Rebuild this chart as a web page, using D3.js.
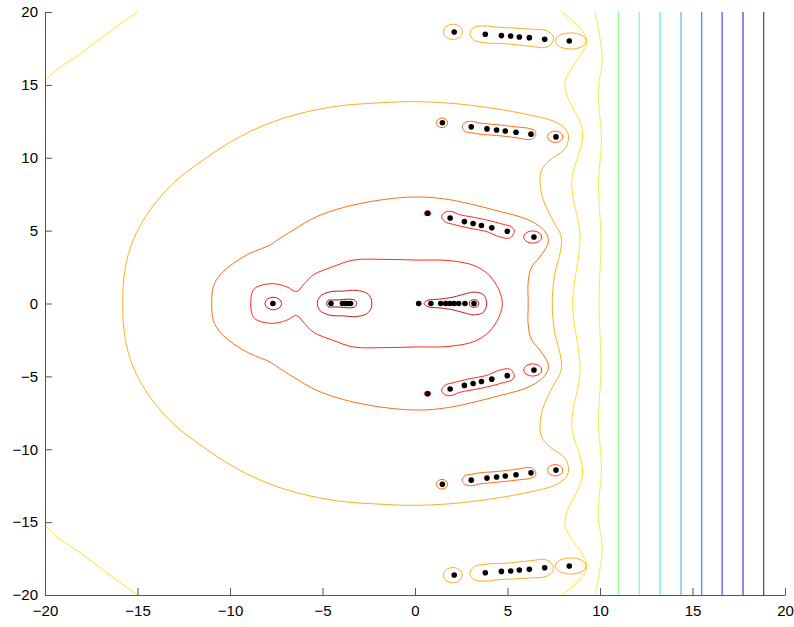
<!DOCTYPE html>
<html>
<head>
<meta charset="utf-8">
<script src="https://cdn.jsdelivr.net/npm/d3@7"></script>
<style>
  body { margin: 0; background: #fff; }
  svg text { font-family: "Liberation Sans", Arial, sans-serif; }
</style>
</head>
<body>
<svg id="chart" width="794" height="627"></svg>
<script>
// contour level colours, lowest |f| first (reversed jet)
var levelColors = ["#800000", "#c80000", "#ff1200", "#ff5b00", "#ffa400", "#ffe000", "#c8ff37",
  "#80ff80", "#37ffc8", "#00edff", "#00a4ff", "#005bff", "#0012ff", "#0000c8", "#000080"];

var xTicks = [-20, -15, -10, -5, 0, 5, 10, 15, 20];
var yTicks = [-20, -15, -10, -5, 0, 5, 10, 15, 20];

// zeros (black dots)
var zerosReal = [-7.68, -4.54, -3.92, -3.77, -3.62, -3.48, 0.2, 0.86, 1.39, 1.66, 1.89, 2.11, 2.36, 2.70, 3.19];
var zerosUpper = [
  [0.68, 6.19], [1.90, 5.87], [2.67, 5.62], [3.14, 5.49], [3.59, 5.35], [4.15, 5.19], [4.99, 4.95], [6.43, 4.56],
  [1.48, 12.40], [3.04, 12.12], [3.89, 11.98], [4.41, 11.90], [4.88, 11.84], [5.46, 11.75], [6.27, 11.62], [7.62, 11.43],
  [2.12, 18.63], [3.80, 18.47], [4.67, 18.38], [5.17, 18.35], [5.64, 18.28], [6.18, 18.24], [7.01, 18.13], [8.34, 18.01]
];
var zerosLower = [
  [0.68, -6.19], [1.90, -5.87], [2.67, -5.62], [3.14, -5.49], [3.59, -5.35], [4.15, -5.19], [4.99, -4.95], [6.43, -4.56],
  [1.48, -12.40], [3.04, -12.12], [3.89, -11.98], [4.41, -11.90], [4.88, -11.84], [5.46, -11.75], [6.27, -11.62], [7.62, -11.43],
  [2.12, -18.63], [3.80, -18.47], [4.67, -18.38], [5.17, -18.35], [5.64, -18.28], [6.18, -18.24], [7.01, -18.13], [8.34, -18.01]
];

// small rings round single zeros: [cx, cy, rx, ry, level]
var rings = [
  [-7.66, 0, 0.45, 0.43, 1], [3.19, 0, 0.26, 0.26, 0],
  [0.68, 6.19, 0.17, 0.17, 2], [0.68, -6.19, 0.17, 0.17, 2],
  [6.36, 4.56, 0.49, 0.42, 2], [6.36, -4.56, 0.49, 0.42, 2],
  [1.46, 12.40, 0.30, 0.33, 3], [1.46, -12.40, 0.30, 0.33, 3],
  [7.58, 11.44, 0.41, 0.39, 3], [7.58, -11.44, 0.41, 0.39, 3],
  [2.05, 18.64, 0.51, 0.53, 4], [2.05, -18.64, 0.51, 0.53, 4],
  [8.42, 18.01, 0.84, 0.56, 4], [8.42, -18.01, 0.84, 0.56, 4]
];

// upper halves of the loops symmetric about y = 0 (left end to right end)
var midInner = [[-4.77, 0], [-4.7, 0.22], [-4.45, 0.24], [-4.1, 0.24], [-3.6, 0.3], [-3.25, 0.22], [-3.15, 0]];
var midOuter = [[-5.28, 0], [-5.12, 0.5], [-4.6, 0.8], [-3.9, 0.85], [-3.2, 0.9], [-2.6, 0.7], [-2.36, 0.3], [-2.34, 0]];
var teardrop = [[0.49, 0], [0.7, 0.22], [1.3, 0.3], [2.0, 0.42], [2.6, 0.62], [3.2, 0.78], [3.7, 0.6], [3.87, 0]];
var peanut = [[-8.88, 0], [-8.74, 0.93], [-8.38, 1.22], [-7.66, 1.36], [-6.94, 1.15], [-6.4, 0.82], [-6.04, 1.27],
  [-5.5, 1.96], [-4.42, 2.53], [-3.34, 2.98], [-1.71, 3.03], [0.09, 2.98], [1.89, 2.94], [3.34, 2.53], [4.23, 1.61], [4.72, 0]];
var loop3 = [[-10.99, 0], [-10.9, 1.15], [-10.54, 1.96], [-9.82, 2.76], [-8.92, 3.44], [-7.84, 4.01], [-7.5, 4.3],
  [-6.58, 5.04], [-5.31, 5.96], [-3.34, 6.76], [-0.45, 7.29], [1.53, 7.19], [4.42, 6.37], [6.22, 5.68], [7.03, 4.93],
  [7.21, 4.24], [6.76, 3.21], [6.31, 2.52], [6.12, 1.5], [6.12, 0]];
var loop4 = [[-15.8, 0], [-15.68, 2.3], [-15.23, 4.36], [-14.32, 6.42], [-13.06, 8.25], [-11.44, 9.85], [-9.46, 11.45],
  [-7.12, 12.71], [-4.42, 13.5], [-1.71, 13.78], [-0.09, 13.85], [1.89, 13.74], [4.23, 13.39], [6.22, 12.93],
  [7.5, 12.5], [8.15, 11.95], [8.3, 11.4], [8.1, 10.6], [7.3, 9.85], [6.85, 9.16], [6.76, 8.25], [6.94, 7.1],
  [7.45, 5.7], [7.9, 4.6], [7.85, 3.5], [7.55, 2.0], [7.42, 0]];

// loops round the upper zero rows (lower rows are their mirror images)
var capsule6 = [[1.44, 5.95], [1.6, 6.25], [1.95, 6.32], [2.4, 6.1], [2.97, 5.96], [3.88, 5.73], [4.77, 5.43], [5.23, 5.25],
  [5.37, 4.97], [5.2, 4.55], [4.99, 4.47], [4.41, 4.65], [3.88, 4.93], [2.97, 5.16], [2.07, 5.43], [1.62, 5.61]];
var capsule12 = [[2.56, 12.12], [2.7, 12.42], [3.04, 12.5], [3.5, 12.38], [4.4, 12.27], [5.46, 12.12], [6.2, 12.0],
  [6.52, 11.8], [6.45, 11.4], [6.2, 11.25], [5.46, 11.38], [4.4, 11.53], [3.5, 11.62], [3.04, 11.72], [2.7, 11.8]];
var capsule18 = [[2.97, 18.55], [3.2, 18.95], [3.8, 19.05], [4.5, 18.95], [5.4, 18.9], [6.3, 18.82], [7.1, 18.72],
  [7.48, 18.3], [7.35, 17.78], [7.0, 17.56], [6.3, 17.64], [5.4, 17.76], [4.5, 17.85], [4.2, 17.84], [3.8, 17.9], [3.2, 18.05]];

// open contours (top to bottom), points at the crests and troughs of the waves
var yellowWave = [[7.93, 20], [9.28, 18.1], [8.1, 15.05], [9.06, 11.73], [8.47, 8.3], [8.92, 4.6], [8.52, 0],
  [8.92, -4.6], [8.47, -8.3], [9.06, -11.73], [8.1, -15.05], [9.28, -18.1], [7.95, -20]];
var yellowGreen = [[9.73, 20], [10.12, 16.8], [9.9, 14.6], [10.08, 11.3], [9.92, 8.2], [10.05, 4.5], [9.95, 0],
  [10.05, -4.5], [9.92, -8.2], [10.08, -11.3], [9.9, -14.6], [10.12, -16.8], [9.73, -20]];
var arcTop = [[-20, 15.33], [-19.19, 16.2], [-18.11, 17.11], [-17.03, 18.14], [-15.95, 19.17], [-14.96, 20]];
var arcBottom = [[-20, -15.25], [-19.2, -16.15], [-18.1, -17.1], [-17.05, -18.1], [-16.0, -19.1], [-15.0, -20]];
var vertLevels = [7, 8, 9, 10, 11, 12, 13, 14];
var vertX = [11.0, 12.12, 13.24, 14.38, 15.5, 16.6, 17.73, 18.85];

var margin = {left: 45, right: 9, top: 12, bottom: 32};
var W = 794, H = 627;

var svg = d3.select('#chart');
var x = d3.scaleLinear().domain([-20, 20]).range([margin.left, W - margin.right]);
var y = d3.scaleLinear().domain([-20, 20]).range([H - margin.bottom, margin.top]);

function mirrorLoop(upper) {
  var lower = upper.slice(1, -1).reverse().map(p => [p[0], -p[1]]);
  return upper.concat(lower);
}
function flipY(pts) {
  return pts.map(p => [p[0], -p[1]]);
}

var closedLoops = [
  {lev: 0, pts: mirrorLoop(midInner)},
  {lev: 1, pts: mirrorLoop(midOuter)},
  {lev: 1, pts: mirrorLoop(teardrop)},
  {lev: 2, pts: mirrorLoop(peanut)},
  {lev: 2, pts: capsule6}, {lev: 2, pts: flipY(capsule6)},
  {lev: 3, pts: mirrorLoop(loop3)},
  {lev: 3, pts: capsule12}, {lev: 3, pts: flipY(capsule12)},
  {lev: 4, pts: mirrorLoop(loop4)},
  {lev: 4, pts: capsule18}, {lev: 4, pts: flipY(capsule18)}
];
var openLines = [
  {lev: 5, pts: yellowWave}, {lev: 5, pts: arcTop}, {lev: 5, pts: arcBottom},
  {lev: 6, pts: yellowGreen}
];
vertX.forEach(function(vx, i) {
  openLines.push({lev: vertLevels[i], pts: [[vx, 20], [vx, -20]]});
});

svg.append('clipPath').attr('id', 'plotclip')
  .append('rect')
  .attr('x', x(-20)).attr('y', y(20))
  .attr('width', x(20) - x(-20)).attr('height', y(-20) - y(20));

var plot = svg.append('g').attr('clip-path', 'url(#plotclip)');

var closedLine = d3.line().x(d => x(d[0])).y(d => y(d[1])).curve(d3.curveCatmullRomClosed.alpha(0.5));
var openLine = d3.line().x(d => x(d[0])).y(d => y(d[1])).curve(d3.curveCatmullRom.alpha(0.5));

plot.selectAll('path.closed').data(closedLoops).enter().append('path')
  .classed('closed', true)
  .attr('d', d => closedLine(d.pts))
  .attr('fill', 'none')
  .attr('stroke', d => levelColors[d.lev])
  .attr('stroke-width', 0.9);

plot.selectAll('path.open').data(openLines).enter().append('path')
  .classed('open', true)
  .attr('d', d => openLine(d.pts))
  .attr('fill', 'none')
  .attr('stroke', d => levelColors[d.lev])
  .attr('stroke-width', 0.9);

plot.selectAll('ellipse.ring').data(rings).enter().append('ellipse')
  .classed('ring', true)
  .attr('cx', d => x(d[0]))
  .attr('cy', d => y(d[1]))
  .attr('rx', d => x(d[2]) - x(0))
  .attr('ry', d => y(0) - y(d[3]))
  .attr('fill', 'none')
  .attr('stroke', d => levelColors[d[4]])
  .attr('stroke-width', 0.9);

var allZeros = zerosReal.map(v => [v, 0]).concat(zerosUpper, zerosLower);
plot.selectAll('circle.zero').data(allZeros).enter().append('circle')
  .classed('zero', true)
  .attr('cx', d => x(d[0]))
  .attr('cy', d => y(d[1]))
  .attr('r', 2.8)
  .attr('fill', '#000');

// axes: left and bottom only, ticks pointing inward
var xAxis = d3.axisBottom(x).tickValues(xTicks).tickSizeInner(-7).tickSizeOuter(0).tickPadding(10);
var yAxis = d3.axisLeft(y).tickValues(yTicks).tickSizeInner(-7).tickSizeOuter(0).tickPadding(7);

var gx = svg.append('g').attr('transform', 'translate(0,' + (H - margin.bottom) + ')').call(xAxis);
var gy = svg.append('g').attr('transform', 'translate(' + margin.left + ',0)').call(yAxis);

[gx, gy].forEach(function(g) {
  g.select('.domain').attr('stroke', '#555');
  g.selectAll('.tick line').attr('stroke', '#555');
  g.selectAll('.tick text').attr('fill', '#000').style('font-size', '15px');
});
</script>
</body>
</html>
